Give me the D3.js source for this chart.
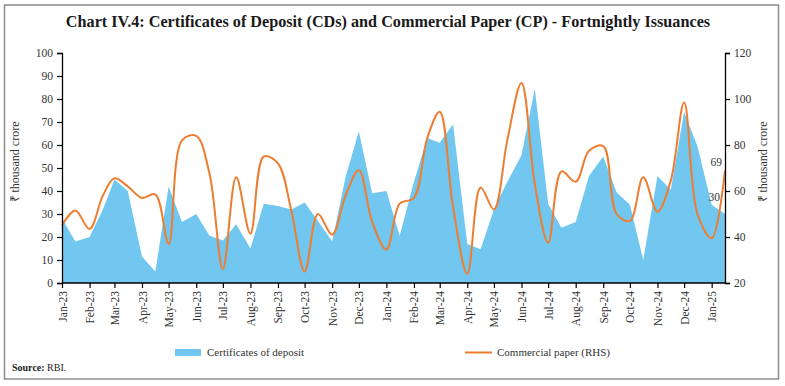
<!DOCTYPE html>
<html>
<head>
<meta charset="utf-8">
<script src="https://cdn.jsdelivr.net/npm/d3@7"></script>
<style>
  body { margin: 0; background: #fff; }
  svg { display: block; font-family: "Liberation Serif", serif; }
</style>
</head>
<body>
<div id="chart"></div>
<script>
// fortnightly issuance dates (1st and 16th of each month)
const dates = [
  "2023-01-01","2023-01-16","2023-02-01","2023-02-16","2023-03-01","2023-03-16",
  "2023-04-01","2023-04-16","2023-05-01","2023-05-16","2023-06-01","2023-06-16",
  "2023-07-01","2023-07-16","2023-08-01","2023-08-16","2023-09-01","2023-09-16",
  "2023-10-01","2023-10-16","2023-11-01","2023-11-16","2023-12-01","2023-12-16",
  "2024-01-01","2024-01-16","2024-02-01","2024-02-16","2024-03-01","2024-03-16",
  "2024-04-01","2024-04-16","2024-05-01","2024-05-16","2024-06-01","2024-06-16",
  "2024-07-01","2024-07-16","2024-08-01","2024-08-16","2024-09-01","2024-09-16",
  "2024-10-01","2024-10-16","2024-11-01","2024-11-16","2024-12-01","2024-12-16",
  "2025-01-01","2025-01-16"
];

// Certificates of deposit (₹ thousand crore, LHS)
const cdValues = [
  28, 18, 20, 32, 45, 40, 11.5, 5, 42, 26.5, 30, 20.5,
  18.5, 25.5, 15, 34.5, 33.5, 32, 35, 27, 18, 46, 66, 39,
  40, 20.5, 44, 63, 61, 69, 17, 14.7, 32, 44, 55.5, 84.5,
  34.5, 24, 26.5, 46.5, 55, 39.5, 34, 10, 46.5, 40.5, 74.5, 59.5,
  34, 30
];

// Commercial paper (₹ thousand crore, RHS)
const cpValues = [
  45, 51.5, 43.5, 58, 65.5, 62, 57, 58.5, 37, 82, 84, 67.5,
  26, 66, 41.5, 75, 72, 51.5, 25, 50, 41, 58, 69, 46.5,
  34.5, 54.5, 57, 83, 94.5, 53, 24, 61.5, 52, 82, 107, 63,
  37.5, 68.5, 64, 77.5, 79.5, 50, 47, 66, 51, 64.5, 98.5, 50,
  39.5, 69
];

const leftTicks = [0, 10, 20, 30, 40, 50, 60, 70, 80, 90, 100];
const rightTicks = [20, 40, 60, 80, 100, 120];

const W = 785, H = 386;
const parse = d3.timeParse("%Y-%m-%d");
const data = dates.map((d, i) => ({ date: parse(d), cd: cdValues[i], cp: cpValues[i] }));

const svg = d3.select("#chart").append("svg")
    .attr("width", W)
    .attr("height", H);

// frame
svg.append("rect")
    .attr("x", 4.5).attr("y", 5)
    .attr("width", 774).attr("height", 374)
    .attr("fill", "none")
    .attr("stroke", "#8c8c8c")
    .attr("stroke-width", 1.5);

// title
const title = svg.append("text")
    .attr("x", 388)
    .attr("y", 27)
    .attr("text-anchor", "middle")
    .attr("font-weight", "bold")
    .attr("font-size", 17)
    .attr("fill", "#1a1a1a")
    .text("Chart IV.4: Certificates of Deposit (CDs) and Commercial Paper (CP) - Fortnightly Issuances");
const tw = title.node().getComputedTextLength();
title.attr("font-size", 17 * 645 / tw);

// scales
const x = d3.scaleTime()
    .domain(d3.extent(data, d => d.date))
    .range([62, 725]);
const yL = d3.scaleLinear().domain([0, 100]).range([283, 53]);
const yR = d3.scaleLinear().domain([20, 120]).range([283, 53]);

// CD area
const area = d3.area()
    .x(d => x(d.date))
    .y0(yL(0))
    .y1(d => yL(d.cd));
svg.append("path")
    .datum(data)
    .attr("fill", "#71c7ef")
    .attr("d", area);

// CP smoothed line
const line = d3.line()
    .x(d => x(d.date))
    .y(d => yR(d.cp))
    .curve(d3.curveCatmullRom.alpha(0.5));
svg.append("path")
    .datum(data)
    .attr("fill", "none")
    .attr("stroke", "#ed7d31")
    .attr("stroke-width", 2)
    .attr("d", line);

// axes
const axisLeft = d3.axisLeft(yL).tickValues(leftTicks).tickSize(5).tickPadding(4);
const axisRight = d3.axisRight(yR).tickValues(rightTicks).tickSize(5).tickPadding(4);
const axisBottom = d3.axisBottom(x)
    .ticks(d3.timeMonth.every(1))
    .tickFormat(d3.timeFormat("%b-%y"))
    .tickSize(5)
    .tickPadding(3);

function styleAxis(g) {
  g.select(".domain").attr("stroke", "#000").attr("stroke-width", 1.3);
  g.selectAll(".tick line").attr("stroke", "#000").attr("stroke-width", 1.2);
  g.selectAll("text").attr("font-family", "Liberation Serif, serif").attr("font-size", 11.5).attr("fill", "#333");
}

svg.append("g")
    .attr("transform", "translate(62,0)")
    .call(axisLeft)
    .call(styleAxis);

svg.append("g")
    .attr("transform", "translate(725,0)")
    .call(axisRight)
    .call(styleAxis);

svg.append("g")
    .attr("transform", "translate(0,283)")
    .call(axisBottom)
    .call(g => g.select(".domain").attr("d", "M62,0H725"))
    .call(styleAxis)
    .selectAll("text")
        .attr("transform", "rotate(-90)")
        .attr("text-anchor", "end")
        .attr("x", -8)
        .attr("y", 0)
        .attr("dy", "0.35em");

// axis titles
svg.append("text")
    .attr("transform", "translate(19,162) rotate(-90)")
    .attr("text-anchor", "middle")
    .attr("font-size", 12)
    .attr("fill", "#333")
    .text("₹ thousand crore");
svg.append("text")
    .attr("transform", "translate(767,162) rotate(-90)")
    .attr("text-anchor", "middle")
    .attr("font-size", 12)
    .attr("fill", "#333")
    .text("₹ thousand crore");

// end-point labels
const last = data[data.length - 1];
svg.append("text")
    .attr("x", x(last.date) - 3)
    .attr("y", yR(last.cp) - 4)
    .attr("text-anchor", "end")
    .attr("font-size", 11.5)
    .attr("fill", "#333")
    .text(last.cp);
svg.append("text")
    .attr("x", x(last.date) - 5)
    .attr("y", yL(last.cd) - 13)
    .attr("text-anchor", "end")
    .attr("font-size", 11.5)
    .attr("fill", "#333")
    .text(last.cd);

// legend
svg.append("rect")
    .attr("x", 175).attr("y", 349)
    .attr("width", 26).attr("height", 7)
    .attr("fill", "#71c7ef");
svg.append("text")
    .attr("x", 207).attr("y", 356)
    .attr("font-size", 11)
    .attr("fill", "#333")
    .text("Certificates of deposit");
svg.append("line")
    .attr("x1", 465).attr("x2", 492)
    .attr("y1", 352.5).attr("y2", 352.5)
    .attr("stroke", "#ed7d31")
    .attr("stroke-width", 2);
svg.append("text")
    .attr("x", 497).attr("y", 356)
    .attr("font-size", 11)
    .attr("fill", "#333")
    .text("Commercial paper (RHS)");

// source
const src = svg.append("text")
    .attr("x", 12).attr("y", 371)
    .attr("font-size", 10)
    .attr("fill", "#222");
src.append("tspan").attr("font-weight", "bold").text("Source: ");
src.append("tspan").text("RBI.");
</script>
</body>
</html>
